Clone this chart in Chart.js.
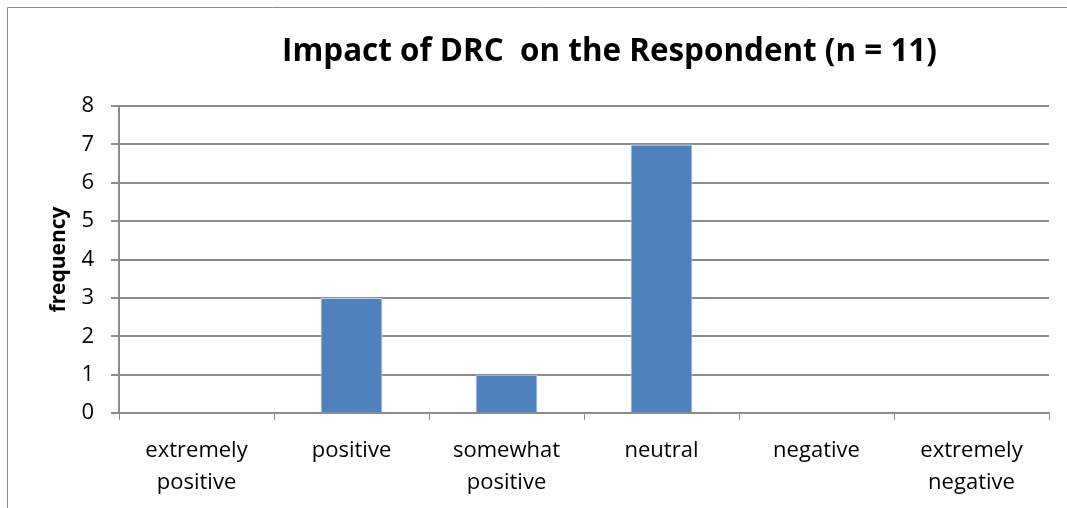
<!DOCTYPE html>
<html>
<head>
<meta charset="utf-8">
<script src="https://cdn.jsdelivr.net/npm/chart.js@4/dist/chart.umd.min.js"></script>
<style>
  html, body { margin: 0; padding: 0; background: #ffffff; }
  #wrap { position: relative; width: 1067px; height: 508px; }
</style>
</head>
<body>
<div id="wrap"><canvas id="c" width="1067" height="508"></canvas></div>
<script>
// Responses about DRC impact, frequency per category
const categories = [
  ["extremely", "positive"],
  "positive",
  ["somewhat", "positive"],
  "neutral",
  "negative",
  ["extremely", "negative"]
];
const frequency = [0, 3, 1, 7, 0, 0];
const yTicks = [0, 1, 2, 3, 4, 5, 6, 7, 8];
const chartTitle = "Impact of DRC  on the Respondent (n = 11)";
const yAxisTitle = "frequency";

const FONT = "'Open Sans', Lato, sans-serif";
const AXIS_GRAY = "#8c8c8c";

// Outer frame and centred heading
const framePlugin = {
  id: "frame",
  beforeDraw(chart) {
    const ctx = chart.ctx;
    ctx.save();
    ctx.strokeStyle = AXIS_GRAY;
    ctx.lineWidth = 1;
    ctx.beginPath();
    ctx.moveTo(7.5, 508);
    ctx.lineTo(7.5, 7.5);
    ctx.lineTo(1067, 7.5);
    ctx.stroke();
    ctx.restore();
  },
  afterDraw(chart) {
    const ctx = chart.ctx;
    ctx.save();
    ctx.fillStyle = "#000000";
    // heading sized to span 655px
    let size = 30;
    ctx.font = "bold " + size + "px " + FONT;
    size = size * 655 / ctx.measureText(chartTitle).width;
    ctx.font = "bold " + size.toFixed(2) + "px " + FONT;
    ctx.textAlign = "center";
    ctx.textBaseline = "alphabetic";
    ctx.fillText(chartTitle, 609.5, 61);
    ctx.restore();
  }
};

new Chart(document.getElementById("c"), {
  type: "bar",
  data: {
    labels: categories,
    datasets: [{
      data: frequency,
      backgroundColor: "#4f81bd",
      borderColor: "#c5d5ea",
      borderWidth: 1,
      barPercentage: 0.4,
      categoryPercentage: 1.0
    }]
  },
  options: {
    responsive: false,
    animation: false,
    devicePixelRatio: 1,
    layout: { padding: { left: 0, top: 106, right: 18, bottom: 0 } },
    plugins: {
      legend: { display: false },
      tooltip: { enabled: false },
      title: { display: false }
    },
    scales: {
      x: {
        afterFit(scale) { scale.height = 95; },
        grid: {
          offset: true,
          drawOnChartArea: false,
          drawTicks: true,
          tickLength: 7,
          color: AXIS_GRAY,
          lineWidth: 1
        },
        border: { color: AXIS_GRAY, width: 2 },
        ticks: {
          color: "#000000",
          font: { family: FONT, size: 22, lineHeight: 1.45 },
          padding: 15,
          maxRotation: 0,
          autoSkip: false
        }
      },
      y: {
        min: 0,
        max: 8,
        afterFit(scale) { scale.width = 119; },
        afterBuildTicks(scale) { scale.ticks = yTicks.map(v => ({ value: v })); },
        grid: {
          color: AXIS_GRAY,
          lineWidth: 2,
          drawTicks: true,
          tickLength: 8
        },
        border: { color: AXIS_GRAY, width: 2 },
        ticks: {
          color: "#000000",
          font: { family: FONT, size: 22 },
          padding: 17
        },
        title: {
          display: true,
          text: yAxisTitle,
          color: "#000000",
          font: { family: FONT, size: 21, weight: "bold" },
          padding: { top: 46, bottom: 0 }
        }
      }
    }
  },
  plugins: [framePlugin]
});
</script>
</body>
</html>
